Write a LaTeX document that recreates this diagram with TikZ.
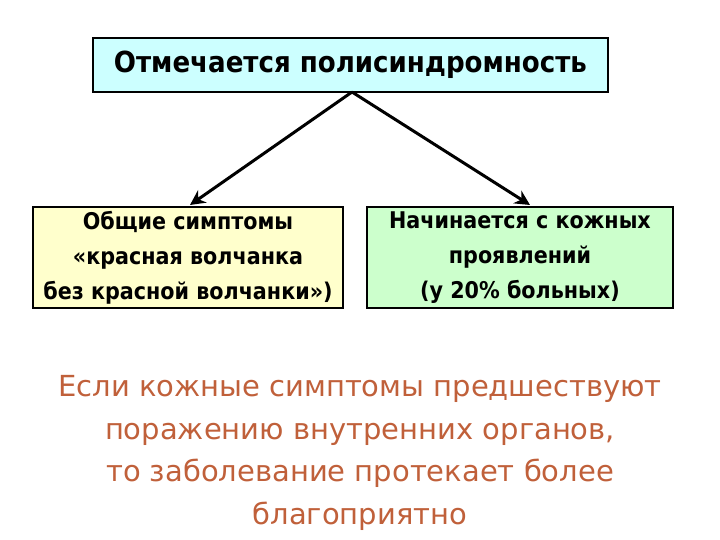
\documentclass[tikz,border=0pt]{standalone}
\usepackage{fontspec}
\setmainfont{DejaVu Sans}
\newfontfamily\boxfont{DejaVu Sans Condensed}
\usetikzlibrary{arrows.meta}
\definecolor{cyanbox}{HTML}{CCFFFF}
\definecolor{yelbox}{HTML}{FFFFCC}
\definecolor{grnbox}{HTML}{CCFFCC}
\definecolor{rust}{HTML}{C0603A}
\begin{document}
\begin{tikzpicture}[x=1pt,y=-1pt,
  boxst/.style={draw=black,line width=2.2pt,font=\boxfont\bfseries\fontsize{23}{35}\selectfont,align=center,inner sep=0pt},
  arr/.style={line width=3pt,-{Stealth[length=15pt,width=15pt]}}]
\useasboundingbox (0,0) rectangle (720,540);
\node[boxst,fill=cyanbox,minimum width=515pt,minimum height=54pt,font=\boxfont\bfseries\fontsize{29}{34}\selectfont] (top) at (350.5,65) {Отмечается полисиндромность};
\node[boxst,fill=yelbox,minimum width=310pt,minimum height=101pt] (left) at (188,257.5) {Общие симптомы\\«красная волчанка\\без красной волчанки»)};
\node[boxst,fill=grnbox,minimum width=306pt,minimum height=101pt] (right) at (520,257.5) {Начинается с кожных\\проявлений\\(у 20\% больных)};
\coordinate (apex) at (352,92);
\draw[arr] (apex) -- (190,205);
\draw[arr] (apex) -- (530,205);
\node[text=rust,font=\fontsize{29}{42.5}\selectfont,align=center] (note) at (360,453) {Если кожные симптомы предшествуют\\поражению внутренних органов,\\то заболевание протекает более\\благоприятно};
\end{tikzpicture}
\end{document}
